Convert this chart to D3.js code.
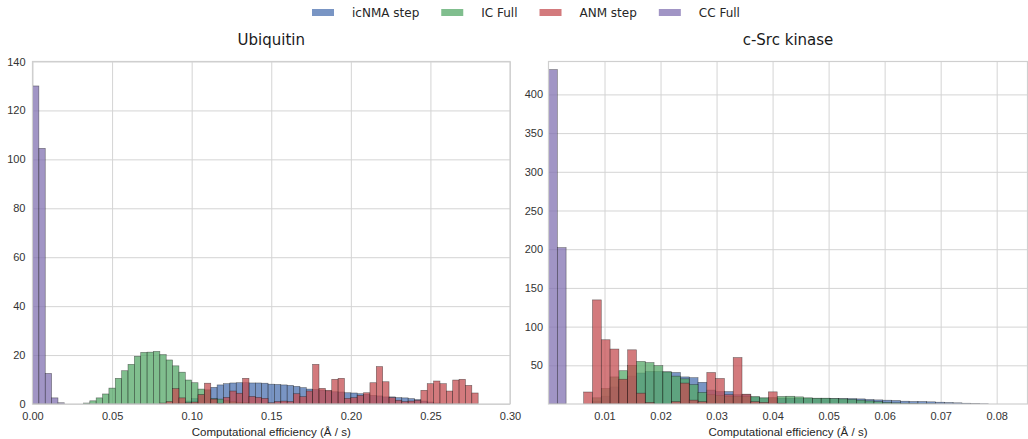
<!DOCTYPE html>
<html>
<head>
<meta charset="utf-8">
<script src="https://cdn.jsdelivr.net/npm/d3@7"></script>
<style>
  body { margin: 0; background: #fff; }
  .tick text { font-family: "Liberation Sans", Arial, sans-serif; font-size: 11px; fill: #333; }
  .grid line { stroke: #d4d4d4; stroke-width: 1; }
  .grid .domain { display: none; }
  .axis .domain { display: none; }
</style>
</head>
<body>
<script>
// Series shared by both panels (legend order = draw order)
var seriesNames = ["icNMA step", "IC Full", "ANM step", "CC Full"];
var seriesColors = ["#4C72B0", "#55A868", "#C44E52", "#8172B2"];

// Ubiquitin: histogram heights, bins of 0.004 starting at 0
var ubqBinWidth = 0.004;
var ubqIcnmaStep = [0, 0, 0, 0, 0, 0, 0, 0, 0, 0,
  0, 0, 0, 0, 0, 0, 0, 0, 0, 0,
  0, 0, 0.3, 0.6, 1.2, 2.2, 3.8, 5.5, 6.8, 7.8,
  8.3, 8.6, 8.7, 8.7, 8.6, 8.6, 8.5, 8.1, 8, 7.8,
  7.6, 7.2, 6.7, 6.1, 5.9, 5.7, 5.3, 5, 4.9, 4.6,
  4.5, 4.2, 4, 3.5, 3.3, 2.9, 2.9, 2.6, 2.5, 2.2,
  1.8, 1.2, 0.8, 0.4, 0.2, 0.1];
var ubqIcFull = [0, 0, 0, 0, 0, 0, 0, 0, 0.4, 1.3,
  2.5, 4.1, 6.5, 10.5, 13.6, 16.2, 19.5, 21.1, 21.2, 21.5,
  20.2, 18, 15.6, 13, 9.8, 8.7, 6.1, 5.8, 2.2, 2,
  1.3, 0.9, 0.6, 0.5, 0.3, 0.3, 0.2, 0.2, 0.1];
var ubqAnmStep = [0, 0, 0, 0, 0, 0, 0, 0, 0, 0,
  0, 0, 0, 0, 0, 0, 0, 0, 0, 0,
  0.4, 1, 6.3, 2.5, 0.5, 0.8, 3.8, 8.5, 2, 0.3,
  2.7, 5.3, 4.4, 10.5, 3.1, 2.7, 2.3, 0.5, 1, 1.2,
  1, 4.2, 3, 5.3, 16.2, 6.4, 5.6, 10.1, 10.5, 2.3,
  2.6, 3.5, 4.6, 8.7, 15.3, 9.1, 2.6, 1.5, 1, 1.2,
  1.5, 5.6, 8.3, 9.4, 8.3, 5.3, 9.8, 10.1, 7.6, 4.5];
var ubqCcFull = [130, 104.5, 12.5, 2.5, 0.5];

// c-Src kinase: histogram heights, bins of 0.00157 starting at 0
var srcBinWidth = 0.00157;
var srcIcnmaStep = [0, 0, 0, 0, 0, 3, 10, 22, 30, 36,
  40, 42, 42, 41.5, 40.7, 35, 34, 28, 18, 16,
  16, 12, 12, 9, 7.5, 7.5, 7.5, 7.5, 7.3, 7.3,
  7.2, 7.2, 7, 7, 7, 6.6, 5.8, 5.3, 4.9, 4.5,
  3.6, 3.2, 3.2, 2.8, 2.3, 1.9, 1.5, 1, 0.5, 0.3];
var srcIcFull = [0, 0, 0, 0, 0, 8, 20, 35, 43, 50,
  55, 53.5, 49.5, 41.5, 36, 32.5, 25, 15, 12, 11,
  10, 10, 9.5, 9.5, 8, 8.3, 9.7, 10, 9.2, 8,
  7.5, 7.5, 7, 6.6, 6, 5, 4, 3, 2, 1.5,
  1, 0.6, 0.3, 0.2];
var srcAnmStep = [0, 0, 0, 0, 15.5, 134.5, 83, 71, 32, 70,
  14, 2, 0, 0, 3, 27, 5, 3, 40.7, 33,
  12, 60, 12.7, 3, 2, 15.7, 1];
var srcCcFull = [432, 202];

// Tick values
var ubqXTicks = [0, 0.05, 0.1, 0.15, 0.2, 0.25, 0.3];
var ubqYTicks = [0, 20, 40, 60, 80, 100, 120, 140];
var srcXTicks = [0.01, 0.02, 0.03, 0.04, 0.05, 0.06, 0.07, 0.08];
var srcYTicks = [50, 100, 150, 200, 250, 300, 350, 400];

var svgWidth = 1028;
var svgHeight = 439;
var plotTop = 61.5;
var plotBottom = 404;

var svg = d3.select("body").append("svg")
  .attr("width", svgWidth)
  .attr("height", svgHeight);

function drawPanel(cfg) {
  var x = d3.scaleLinear().domain(cfg.xDomain).range([cfg.left, cfg.right]);
  var y = d3.scaleLinear().domain(cfg.yDomain).range([plotBottom, plotTop]);
  var g = svg.append("g");

  // grid
  g.append("g").attr("class", "grid")
    .attr("transform", `translate(0, ${plotBottom})`)
    .call(d3.axisBottom(x).tickValues(cfg.xTicks).tickSize(-(plotBottom - plotTop)).tickFormat(""));
  g.append("g").attr("class", "grid")
    .attr("transform", `translate(${cfg.left}, 0)`)
    .call(d3.axisLeft(y).tickValues(cfg.yTicks).tickSize(-(cfg.right - cfg.left)).tickFormat(""));

  // bars
  var clipId = "clip-" + cfg.id;
  svg.append("clipPath").attr("id", clipId).append("rect")
    .attr("x", cfg.left).attr("y", plotTop)
    .attr("width", cfg.right - cfg.left).attr("height", plotBottom - plotTop);

  var bars = g.append("g").attr("clip-path", `url(#${clipId})`);
  cfg.series.forEach(function(values, s) {
    var bins = values.map(function(v, i) { return {x0: i * cfg.binWidth, x1: (i + 1) * cfg.binWidth, v: v}; })
      .filter(function(d) { return d.v > 0; });
    bars.append("g").selectAll("rect").data(bins).enter().append("rect")
      .attr("x", d => x(d.x0))
      .attr("width", d => x(d.x1) - x(d.x0))
      .attr("y", d => y(d.v))
      .attr("height", d => y(0) - y(d.v))
      .attr("fill", seriesColors[s])
      .attr("fill-opacity", 0.75)
      .attr("stroke", "#111")
      .attr("stroke-opacity", 0.55)
      .attr("stroke-width", 0.6);
  });

  // frame
  g.append("rect")
    .attr("x", cfg.left).attr("y", plotTop)
    .attr("width", cfg.right - cfg.left).attr("height", plotBottom - plotTop)
    .attr("fill", "none").attr("stroke", "#cfcfcf").attr("stroke-width", 1.2);

  // axes
  g.append("g").attr("class", "axis")
    .attr("transform", `translate(0, ${plotBottom})`)
    .call(d3.axisBottom(x).tickValues(cfg.xTicks).tickSize(0).tickPadding(8).tickFormat(d3.format(".2f")));
  g.append("g").attr("class", "axis")
    .attr("transform", `translate(${cfg.left}, 0)`)
    .call(d3.axisLeft(y).tickValues(cfg.yTicks).tickSize(0).tickPadding(cfg.yPad).tickFormat(d3.format("d")));

  // title and axis label
  g.append("text")
    .attr("x", (cfg.left + cfg.right) / 2).attr("y", 45)
    .attr("text-anchor", "middle")
    .style("font-family", "'DejaVu Sans', sans-serif").style("font-size", "15px").style("fill", "#1a1a1a")
    .text(cfg.title);
  g.append("text")
    .attr("x", (cfg.left + cfg.right) / 2).attr("y", 435.5)
    .attr("text-anchor", "middle")
    .style("font-family", "'Liberation Sans', Arial, sans-serif").style("font-size", "11.5px").style("fill", "#262626")
    .text("Computational efficiency (Å / s)");
}

drawPanel({
  id: "ubq", title: "Ubiquitin", left: 32.5, right: 510,
  xDomain: [0, 0.3], yDomain: [0, 140], xTicks: ubqXTicks, yTicks: ubqYTicks, yPad: 7,
  binWidth: ubqBinWidth, series: [ubqIcnmaStep, ubqIcFull, ubqAnmStep, ubqCcFull]
});

drawPanel({
  id: "src", title: "c-Src kinase", left: 548.5, right: 1027.5,
  xDomain: [0, 0.0855], yDomain: [0, 442.5], xTicks: srcXTicks, yTicks: srcYTicks, yPad: 5.5,
  binWidth: srcBinWidth, series: [srcIcnmaStep, srcIcFull, srcAnmStep, srcCcFull]
});

// legend across the top
var legend = svg.append("g").attr("transform", "translate(312, 0)");
var cursor = 0;
seriesNames.forEach(function(name, i) {
  var item = legend.append("g").attr("transform", `translate(${cursor}, 0)`);
  item.append("rect")
    .attr("x", 0).attr("y", 9).attr("width", 22).attr("height", 7)
    .attr("fill", seriesColors[i]).attr("fill-opacity", 0.75);
  var t = item.append("text")
    .attr("x", 40).attr("y", 17)
    .style("font-family", "'DejaVu Sans', sans-serif").style("font-size", "12px").style("fill", "#262626")
    .text(name);
  cursor += 40 + t.node().getComputedTextLength() + 22;
});
</script>
</body>
</html>
